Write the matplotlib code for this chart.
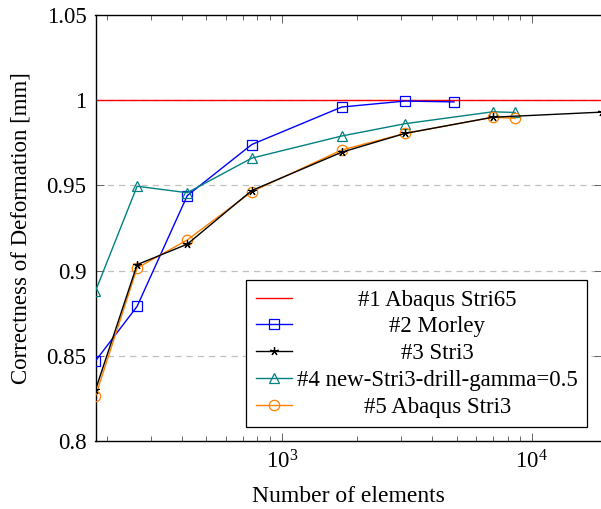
import matplotlib
matplotlib.use("Agg")
import matplotlib.pyplot as plt
from matplotlib.ticker import FixedLocator, LogLocator, NullFormatter

plt.rcParams["font.family"] = ["Liberation Serif", "DejaVu Serif"]
plt.rcParams["mathtext.fontset"] = "custom"
plt.rcParams["mathtext.rm"] = "Liberation Serif"
plt.rcParams["mathtext.it"] = "Liberation Serif:italic"
plt.rcParams["mathtext.bf"] = "Liberation Serif:bold"

FS = 16.5

# Reference solution
ref_value = 1.0
ref_label = "#1 Abaqus Stri65"

# Element counts and normalised deformation per element type
morley_n = [180, 264, 419, 759, 1738, 3111, 4886]
morley_v = [0.847, 0.879, 0.944, 0.974, 0.996, 0.9995, 0.999]

stri3_n = [180, 264, 419, 759, 1738, 3111, 6982, 19000]
stri3_v = [0.830, 0.9035, 0.9155, 0.947, 0.9695, 0.9805, 0.990, 0.993]

drill_n = [180, 264, 419, 759, 1738, 3111, 6982, 8576]
drill_v = [0.888, 0.9495, 0.9457, 0.966, 0.979, 0.9862, 0.9932, 0.9928]

abaqus3_n = [180, 264, 419, 759, 1738, 3111, 6982, 8576]
abaqus3_v = [0.8264, 0.9015, 0.918, 0.9463, 0.9708, 0.9805, 0.990, 0.9894]

labels = ["#2 Morley", "#3 Stri3", "#4 new-Stri3-drill-gamma=0.5", "#5 Abaqus Stri3"]

x_min, x_max = 180, 19000
y_min, y_max = 0.8, 1.05
y_ticks = [0.8, 0.85, 0.9, 0.95, 1.0, 1.05]
y_ticklabels = ["0.8", "0.85", "0.9", "0.95", "1", "1.05"]

W, H = 601, 509
fig = plt.figure(figsize=(W / 100, H / 100), dpi=100)
ax = fig.add_axes([95.5 / W, 68 / H, 506 / W, 426 / H])

ax.set_xscale("log")
ax.set_xlim(x_min, x_max)
ax.set_ylim(y_min, y_max)

# dashed horizontal grid
for yv in y_ticks[1:-1]:
    ax.axhline(yv, color="#c0c0c0", lw=0.9, ls=(0, (5, 4)), zorder=0.5)

ax.axhline(ref_value, color="#ff0000", lw=1.0, label=ref_label, zorder=2)
ax.plot(morley_n, morley_v, color="#0000ff", lw=1.0, marker="s", ms=7.5,
        mfc="none", mec="#0000ff", mew=0.9, label=labels[0], zorder=3)
ax.plot(stri3_n, stri3_v, color="black", lw=1.0, marker=(5, 2, 0), ms=6,
        mec="black", mew=0.9, label=labels[1], zorder=4)
ax.plot(drill_n, drill_v, color="#008080", lw=1.0, marker="^", ms=6.5,
        mfc="none", mec="#008080", mew=0.9, label=labels[2], zorder=3)
ax.plot(abaqus3_n, abaqus3_v, color="#ff8000", lw=1.0, marker="o", ms=7.5,
        mfc="none", mec="#ff8000", mew=0.9, label=labels[3], zorder=3)

ax.yaxis.set_major_locator(FixedLocator(y_ticks))
ax.set_yticklabels(y_ticklabels)
ax.xaxis.set_major_locator(LogLocator(base=10, numticks=10))
ax.xaxis.set_minor_locator(LogLocator(base=10, subs=range(2, 10), numticks=20))
ax.xaxis.set_minor_formatter(NullFormatter())

ax.tick_params(axis="both", which="both", direction="in", top=True, right=True,
               color="#666666", width=0.7, labelsize=FS)
ax.tick_params(axis="both", which="major", length=6)
ax.tick_params(axis="both", which="minor", length=3.8)
ax.tick_params(axis="y", pad=6.5)
ax.tick_params(axis="x", pad=7)

for sp in ax.spines.values():
    sp.set_linewidth(1.0)

ax.set_xlabel("Number of elements", fontsize=17)
ax.set_ylabel("Correctness of Deformation [mm]", fontsize=FS)
ax.xaxis.set_label_coords(0.5, -0.105)
ax.yaxis.set_label_coords(-0.127, 0.5)

leg = ax.legend(loc="upper left", bbox_to_anchor=((246 - 95.5) / 506, (441 - 280) / 426),
                fontsize=FS, frameon=True, fancybox=False, framealpha=1,
                edgecolor="black", handlelength=1.6, handletextpad=0.2,
                labelspacing=0.25, borderpad=0.42, borderaxespad=0)
leg.get_frame().set_linewidth(0.9)

# centre each legend label within the label column
fig.canvas.draw()
r = fig.canvas.get_renderer()
exts = [t.get_window_extent(r) for t in leg.get_texts()]
left = min(e.x0 for e in exts)
right = max(e.x1 for e in exts)
mid = 0.5 * (left + right)
for t, e in zip(leg.get_texts(), exts):
    t.set_x(mid - 0.5 * (e.x0 + e.x1))

fig.savefig("out.png", dpi=100)
